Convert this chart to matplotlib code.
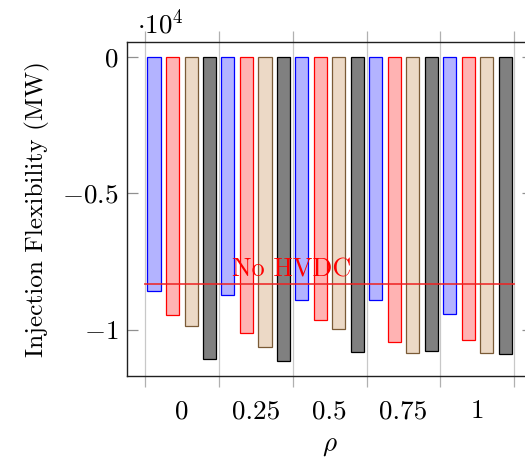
import matplotlib
matplotlib.use("Agg")
import matplotlib.pyplot as plt
import numpy as np

plt.rcParams["font.family"] = "serif"
plt.rcParams["font.serif"] = ["cmr10", "DejaVu Serif"]
plt.rcParams["mathtext.fontset"] = "cm"
plt.rcParams["axes.formatter.use_mathtext"] = True

# rho values and their labels
rho = [0.0, 0.25, 0.5, 0.75, 1.0]
rho_labels = ["0", "0.25", "0.5", "0.75", "1"]

# injection flexibility (MW) for the four cases at each rho
case_blue = [-8570, -8720, -8900, -8900, -9420]
case_red = [-9450, -10120, -9650, -10450, -10380]
case_tan = [-9870, -10630, -9950, -10840, -10840]
case_black = [-11060, -11120, -10820, -10760, -10870]

no_hvdc = -8300

yticks = [0, -5000, -10000]
ytick_labels = [r"$0$", r"$-0.5$", r"$-1$"]

scale = 1e4
fs = 19.5

fig = plt.figure(figsize=(5.25, 4.59), dpi=100)
ax = fig.add_axes([126.7 / 525, 1 - 376 / 459, (532.5 - 126.7) / 525, (376 - 42.3) / 459])

styles = [
    (case_blue, "#b3b3ff", "#0000ff"),
    (case_red, "#ffb3b3", "#ff0000"),
    (case_tan, "#ecd9c6", "#7a5a36"),
    (case_black, "#808080", "#000000"),
]
pitch = 0.0628
width = 0.0445
x = np.array(rho)
for i, (vals, fc, ec) in enumerate(styles):
    off = (i - 1.5) * pitch
    ax.bar(x + off, np.array(vals) / scale, width=width, color=fc,
           edgecolor=ec, linewidth=0.9, zorder=3)

# reference level without HVDC
step = rho[1] - rho[0]
ax.plot([rho[0] - step / 2, rho[-1] + step / 2], [no_hvdc / scale] * 2,
        color="#ee2222", lw=1.3, alpha=0.85, zorder=4)
ax.text(0.171, no_hvdc / scale + 0.006, "No HVDC", color="red",
        fontsize=18.8, ha="left", va="bottom", zorder=5)

ax.set_xlim(rho[0] - 0.1866, rho[-1] + 0.1866)
ax.set_ylim(-1.1683, 0.0527)

# grid lines between groups, labels at group centres
edges = [r - step / 2 for r in rho] + [rho[-1] + step / 2]
ax.set_xticks(edges)
ax.set_xticklabels([""] * len(edges))
ax.set_xticks(rho, minor=True)
ax.set_xticklabels(rho_labels, minor=True, fontsize=fs)
ax.tick_params(axis="x", which="major", direction="out", length=8,
               color="#b0b0b0", width=0.9, top=True)
ax.tick_params(axis="x", which="minor", length=0, pad=17)
ax.grid(axis="x", which="major", color="#c8c8c8", lw=0.9, zorder=0)

ax.set_yticks([v / scale for v in yticks])
ax.set_yticklabels(ytick_labels, fontsize=fs)
ax.tick_params(axis="y", direction="in", length=8, color="#909090",
               width=0.9, right=True, pad=6)

for s in ax.spines.values():
    s.set_linewidth(1.0)
    s.set_color("#202020")

ax.set_xlabel(r"$\rho$", fontsize=fs, labelpad=8)
ax.set_ylabel("Injection Flexibility (MW)", fontsize=18.2, labelpad=9)

fig.text(137 / 525, 1 - 33 / 459, r"$\cdot 10^{4}$", fontsize=fs,
         ha="left", va="baseline")

fig.savefig("out.png", dpi=100)
